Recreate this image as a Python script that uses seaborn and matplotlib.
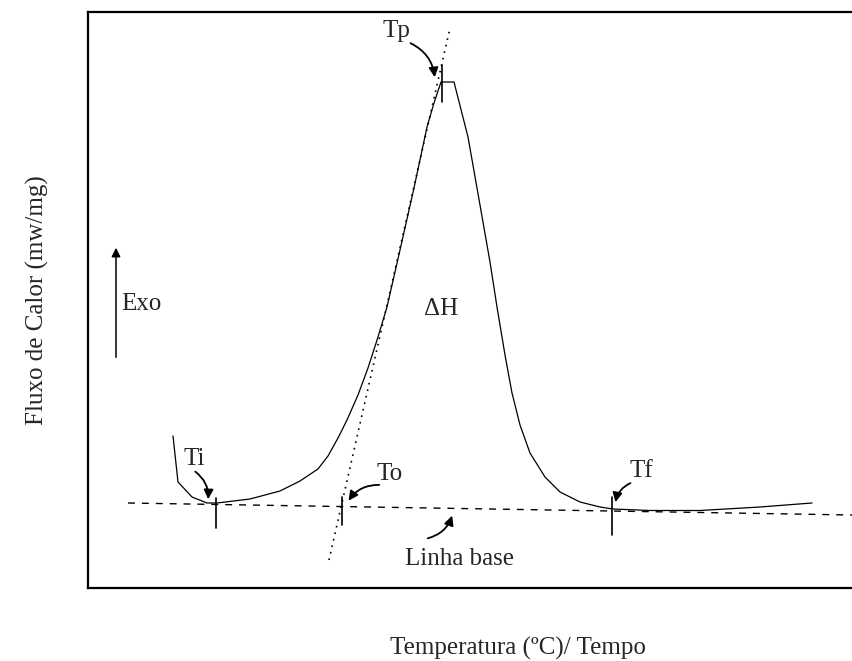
import matplotlib
matplotlib.use("Agg")
import matplotlib.pyplot as plt
import seaborn as sns
import numpy as np
import pandas as pd

# DSC curve (arbitrary units: temperature / heat flow)
temp = [85, 90, 104, 119, 129, 162, 192, 212, 230, 240, 250, 259, 270, 280,
        290, 299, 312, 326, 339, 346, 353, 366, 380, 392, 402, 409, 417, 424,
        432, 442, 457, 472, 492, 512, 525, 562, 612, 672, 724]
flow = [152, 106, 91, 85, 85, 89, 97, 107, 119, 132, 150, 168, 193, 220,
        251, 281, 338, 400, 461, 485, 506, 506, 451, 383, 326, 281, 233, 195,
        163, 135, 111, 96, 86, 81, 79, 77.5, 77.5, 81, 85]

# baseline and onset tangent (two points each)
base_t = [40, 764]
base_f = [85, 73]
tang_t = [241, 362]
tang_f = [28, 560]

# characteristic temperatures: label, x, tick bottom, tick top
marks = pd.DataFrame({
    "label": ["Ti", "To", "Tf", "Tp"],
    "t": [128, 254, 524, 354],
    "lo": [60, 63, 53, 486],
    "hi": [90, 91, 91, 523],
})
# label baselines and arrow start/end points
lab_xy = {"Ti": (106, 123), "To": (302, 108), "Tf": (553, 111), "Tp": (308, 551)}
arr_from = {"Ti": (105, 118), "To": (294, 103), "Tf": (545, 106), "Tp": (320, 546)}
arr_to = {"Ti": (120, 86), "To": (259, 85), "Tf": (527, 83), "Tp": (347, 508)}

sns.set_style("white")
plt.rcParams["font.family"] = ["Liberation Serif", "DejaVu Serif"]

W, H = 852, 661
fig = plt.figure(figsize=(W / 100, H / 100), dpi=100)
left, bottom, top = 88 / W, 73 / H, 649 / H
ax = fig.add_axes([left, bottom, 1.01 - left, top - bottom])
ax.set_xlim(0, (1.01 - left) * W)
ax.set_ylim(0, (top - bottom) * H)

curve = pd.DataFrame({"t": temp, "f": flow})
sns.lineplot(data=curve, x="t", y="f", sort=False, color="black", lw=0.9, ax=ax)
sns.lineplot(x=base_t, y=base_f, color="black", lw=1.0, ax=ax, linestyle=(0, (5, 5)))
sns.lineplot(x=tang_t, y=tang_f, color="black", lw=1.2, ax=ax, linestyle=(0, (1, 3)))

arrow_kw = dict(arrowstyle="-|>", color="black", lw=1.3, mutation_scale=14)

for _, r in marks.iterrows():
    ax.plot([r.t, r.t], [r.lo, r.hi], color="black", lw=1.2)
    ax.text(*lab_xy[r.label], r.label, fontsize=18, ha="center", va="baseline")
    rad = -0.3 if r.label in ("Ti", "Tp") else 0.3
    ax.annotate("", xy=arr_to[r.label], xytext=arr_from[r.label],
                arrowprops=dict(**arrow_kw, connectionstyle=f"arc3,rad={rad}"))

# baseline label
ax.text(372, 23, "Linha base", fontsize=18, ha="center", va="baseline")
ax.annotate("", xy=(365, 75), xytext=(337, 49),
            arrowprops=dict(**arrow_kw, connectionstyle="arc3,rad=0.3"))

# exo arrow and enthalpy
ax.annotate("", xy=(28, 343), xytext=(28, 228),
            arrowprops=dict(arrowstyle="-|>", color="black", lw=1.1, mutation_scale=13))
ax.text(33, 278, "Exo", fontsize=18, ha="left", va="baseline")
ax.text(353, 273, "ΔH", fontsize=18, ha="center", va="baseline")

ax.set_xticks([])
ax.set_yticks([])
for s in ax.spines.values():
    s.set_linewidth(1.6)
    s.set_color("black")

ax.set_xlabel("Temperatura (ºC)/ Tempo", fontsize=18)
ax.set_ylabel("Fluxo de Calor (mw/mg)", fontsize=18)
ax.xaxis.set_label_coords(518 / W, 1 - 648 / H, transform=fig.transFigure)
ax.yaxis.set_label_coords(37 / W, 1 - 300 / H, transform=fig.transFigure)
ax.xaxis.label.set_va("center")
ax.yaxis.label.set_va("center")

fig.savefig("out.png", dpi=100)
